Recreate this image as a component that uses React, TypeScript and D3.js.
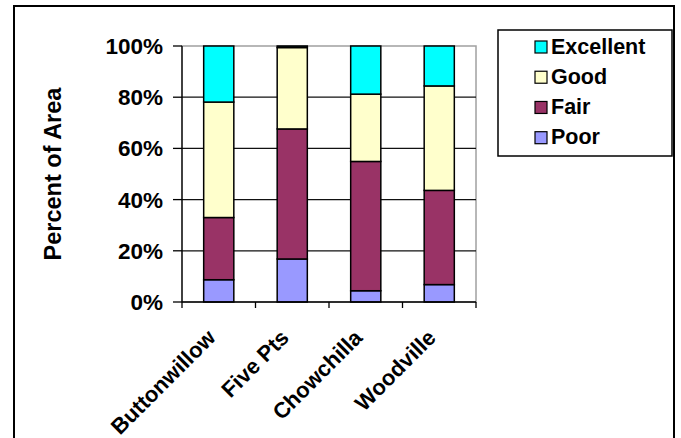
import React from "react";
import * as d3 from "d3";

const categories = ["Buttonwillow", "Five Pts", "Chowchilla", "Woodville"];
const seriesNames = ["Poor", "Fair", "Good", "Excellent"];
const poor = [8.7, 16.8, 4.4, 6.8];
const fair = [24.3, 50.8, 50.5, 36.8];
const good = [45.1, 31.8, 26.3, 40.8];
const excellent = [21.9, 0.6, 18.8, 15.6];
const yTicks = [0, 20, 40, 60, 80, 100];
const legendOrder = ["Excellent", "Good", "Fair", "Poor"];

const colors: Record<string, string> = {
  Poor: "#9999FF",
  Fair: "#993366",
  Good: "#FFFFCC",
  Excellent: "#00FFFF",
};

const W = 681;
const H = 438;
const plot = { left: 182, right: 476, top: 46, bottom: 302 };
const FONT = "'Liberation Sans', Arial, sans-serif";

export default function App() {
  const rows = categories.map((c, i) => ({
    cat: c,
    Poor: poor[i],
    Fair: fair[i],
    Good: good[i],
    Excellent: excellent[i],
  }));
  const stack = d3.stack<any>().keys(seriesNames);
  const layers = stack(rows);

  const x = d3
    .scaleBand<string>()
    .domain(categories)
    .range([plot.left, plot.right])
    .paddingInner(0.59)
    .paddingOuter(0.295);
  const step = x.step();
  const y = d3.scaleLinear().domain([0, 100]).range([plot.bottom, plot.top]);

  const legendY = d3
    .scalePoint<string>()
    .domain(legendOrder)
    .range([46, 136.7]);

  return (
    <svg
      width={W}
      height={H}
      style={{ position: "fixed", left: 0, top: 0, background: "#fff" }}
      fontFamily={FONT}
      fontWeight="bold"
    >
      <rect x={0} y={0} width={W} height={H} fill="#fff" />
      {/* outer frame */}
      <path d={`M14,${H + 5} V6 H674 V${H + 5}`} fill="none" stroke="#000" strokeWidth={2} />

      {/* plot area border */}
      <rect
        x={plot.left}
        y={plot.top}
        width={plot.right - plot.left}
        height={plot.bottom - plot.top}
        fill="none"
        stroke="#a0a0a0"
        strokeWidth={1.5}
      />
      {/* gridlines */}
      {yTicks
        .filter((t) => t > 0 && t < 100)
        .map((t) => (
          <line key={t} x1={plot.left} x2={plot.right} y1={y(t)} y2={y(t)} stroke="#111" strokeWidth={1.2} />
        ))}

      {/* bars */}
      {layers.map((layer) =>
        layer.map((d, i) => (
          <rect
            key={layer.key + i}
            x={x(categories[i])!}
            y={y(d[1])}
            width={x.bandwidth()}
            height={y(d[0]) - y(d[1])}
            fill={colors[layer.key]}
            stroke="#000"
            strokeWidth={1.5}
          />
        ))
      )}

      {/* y axis */}
      <line x1={plot.left} x2={plot.left} y1={plot.top} y2={plot.bottom} stroke="#000" strokeWidth={1.3} />
      {yTicks.map((t) => (
        <g key={t}>
          <line x1={plot.left - 9} x2={plot.left} y1={y(t)} y2={y(t)} stroke="#000" strokeWidth={1.3} />
          <text x={163} y={y(t) + 8} textAnchor="end" fontSize={22.5}>
            {t}%
          </text>
        </g>
      ))}

      {/* x axis */}
      <line x1={plot.left} x2={plot.right} y1={plot.bottom} y2={plot.bottom} stroke="#000" strokeWidth={1.3} />
      {d3.range(categories.length + 1).map((i) => (
        <line
          key={i}
          x1={plot.left + i * step}
          x2={plot.left + i * step}
          y1={plot.bottom}
          y2={plot.bottom + 6}
          stroke="#000"
          strokeWidth={1.3}
        />
      ))}
      {categories.map((c) => {
        const cx = x(c)! + x.bandwidth() / 2;
        return (
          <text
            key={c}
            transform={`translate(${cx - 2},${plot.bottom + 37}) rotate(-45)`}
            textAnchor="end"
            fontSize={22}
          >
            {c}
          </text>
        );
      })}

      {/* y title */}
      <text
        transform={`translate(61,${(plot.top + plot.bottom) / 2}) rotate(-90)`}
        textAnchor="middle"
        fontSize={23.5}
      >
        Percent of Area
      </text>

      {/* legend */}
      <rect x={498} y={30} width={174} height={126} fill="#fff" stroke="#000" strokeWidth={1.5} />
      {legendOrder.map((k) => {
        const cy = legendY(k)!;
        return (
          <g key={k}>
            <rect x={535} y={cy - 5} width={12} height={12} fill={colors[k]} stroke="#000" strokeWidth={1.2} />
            <text x={551} y={cy + 7.5} fontSize={21.5}>
              {k}
            </text>
          </g>
        );
      })}
    </svg>
  );
}
